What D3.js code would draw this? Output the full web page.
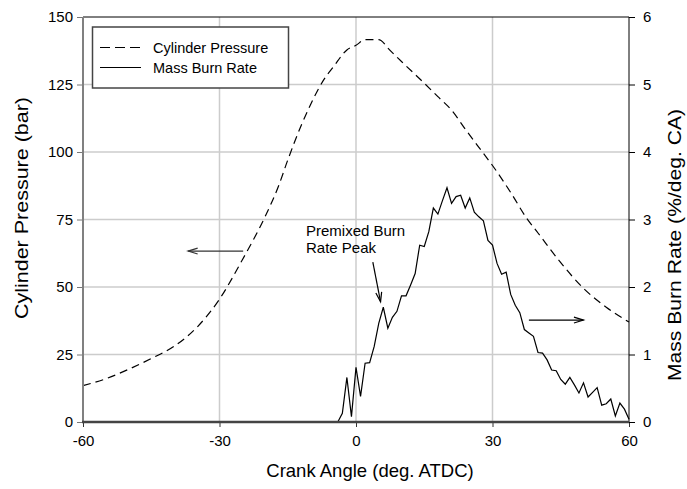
<!DOCTYPE html>
<html>
<head>
<meta charset="utf-8">
<script src="https://cdn.jsdelivr.net/npm/d3@7"></script>
<style>
  body { margin: 0; background: #fff; }
  svg { display: block; font-family: 'Liberation Sans', Arial, sans-serif; }
</style>
</head>
<body>
<div id="chart"></div>
<script>
// cylinder pressure (bar) vs crank angle
const pressureAngle = [-60, -55, -50, -45, -40, -35, -30, -25, -20, -17, -15, -12, -10, -7, -5, -2, 0, 2, 5, 5.5, 7, 10, 15, 18, 21, 24, 28, 30, 34, 37.5, 40, 45, 50, 55, 60]
const pressure = [13.5, 16, 19.5, 23.5, 28, 35, 45.5, 60, 76, 87.5, 97, 110, 117.5, 127, 131.5, 137.8, 139.5, 141.6, 141.6, 141.3, 138.5, 133.5, 125.5, 120.5, 115.5, 108.5, 99.5, 95, 85, 75.5, 70, 59, 49.5, 42.5, 37]

// mass burn rate (%/deg CA)
const burnAngle = [-60, -5, -4, -3, -2, -1, 0, 1, 2, 3, 4, 5, 6, 7, 8, 9, 10, 11, 12, 13, 14, 15, 16, 17, 18, 19, 20,
  21, 22, 23, 24, 25, 26, 27, 28, 29, 30, 31, 32, 33, 34, 35, 36, 37, 38, 39, 40,
  41, 42, 43, 44, 45, 46, 47, 48, 49, 50, 51, 52, 53, 54, 55, 56, 57, 58, 59, 60]
const burnRate = [0, 0, 0, 0.13, 0.66, 0.08, 0.81, 0.38, 0.87, 0.88, 1.12, 1.46, 1.70, 1.39, 1.55, 1.64, 1.87, 1.87, 2.03, 2.20, 2.62, 2.60, 2.82, 3.17, 3.08, 3.28, 3.47,
  3.24, 3.34, 3.36, 3.17, 3.32, 3.11, 3.04, 2.98, 2.69, 2.62, 2.35, 2.19, 2.22, 1.89, 1.73, 1.62, 1.37, 1.32, 1.27, 1.03,
  1.02, 0.92, 0.77, 0.76, 0.63, 0.56, 0.66, 0.55, 0.43, 0.58, 0.37, 0.44, 0.51, 0.25, 0.27, 0.34, 0.09, 0.28, 0.19, 0.04]

const xTicks = [-60, -30, 0, 30, 60]
const leftTicks = [0, 25, 50, 75, 100, 125, 150]
const rightTicks = [0, 1, 2, 3, 4, 5, 6]

const W = 687
const H = 489
const plot = { left: 83, right: 629, top: 17, bottom: 422 }

const svg = d3.select('#chart').append('svg')
  .attr('width', W)
  .attr('height', H)

const x = d3.scaleLinear().domain([-60, 60]).range([plot.left, plot.right])
const yP = d3.scaleLinear().domain([0, 150]).range([plot.bottom, plot.top])
const yB = d3.scaleLinear().domain([0, 6]).range([plot.bottom, plot.top])

// grid
svg.append('g')
  .selectAll('line')
  .data(xTicks.slice(1, -1))
  .enter().append('line')
  .attr('x1', d => x(d)).attr('x2', d => x(d))
  .attr('y1', plot.top).attr('y2', plot.bottom)
  .attr('stroke', '#cccccc').attr('stroke-width', 1.5)

svg.append('g')
  .selectAll('line')
  .data(leftTicks.slice(1, -1))
  .enter().append('line')
  .attr('x1', plot.left).attr('x2', plot.right)
  .attr('y1', d => yP(d)).attr('y2', d => yP(d))
  .attr('stroke', '#cccccc').attr('stroke-width', 1.5)

// curves
const pLine = d3.line().x((d, i) => x(pressureAngle[i])).y(d => yP(d)).curve(d3.curveMonotoneX)
svg.append('path')
  .datum(pressure)
  .attr('d', pLine)
  .attr('fill', 'none')
  .attr('stroke', '#000')
  .attr('stroke-width', 1.2)
  .attr('stroke-dasharray', '8,5')

const bLine = d3.line().x((d, i) => x(burnAngle[i])).y(d => yB(d))
svg.append('path')
  .datum(burnRate)
  .attr('d', bLine)
  .attr('fill', 'none')
  .attr('stroke', '#000')
  .attr('stroke-width', 1.2)

// axes
const xAxis = d3.axisBottom(x).tickValues(xTicks).tickSize(5).tickPadding(8).tickFormat(d => String(d))
svg.append('g')
  .attr('class', 'x-axis')
  .attr('transform', 'translate(0,' + plot.bottom + ')')
  .call(xAxis)

const yAxisL = d3.axisLeft(yP).tickValues(leftTicks).tickSize(6).tickPadding(4).tickFormat(d => String(d))
svg.append('g')
  .attr('class', 'y-axis')
  .attr('transform', 'translate(' + plot.left + ',0)')
  .call(yAxisL)

const yAxisR = d3.axisRight(yB).tickValues(rightTicks).tickSize(6).tickPadding(8).tickFormat(d => String(d))
svg.append('g')
  .attr('class', 'y-axis-r')
  .attr('transform', 'translate(' + plot.right + ',0)')
  .call(yAxisR)

svg.selectAll('.x-axis, .y-axis, .y-axis-r').selectAll('text')
  .attr('font-size', '15px')
  .attr('font-family', "'Liberation Sans', Arial, sans-serif")
  .attr('fill', '#000')
svg.selectAll('.x-axis .domain, .y-axis .domain, .y-axis-r .domain').remove()
svg.selectAll('.y-axis .tick line').attr('stroke', '#777')
svg.selectAll('.x-axis .tick line').attr('stroke', '#333')

// frame
svg.append('line').attr('x1', plot.left).attr('x2', plot.right).attr('y1', plot.top).attr('y2', plot.top)
  .attr('stroke', '#000').attr('stroke-width', 1)
svg.append('line').attr('x1', plot.right).attr('x2', plot.right).attr('y1', plot.top).attr('y2', plot.bottom)
  .attr('stroke', '#000').attr('stroke-width', 1)
svg.append('line').attr('x1', plot.left).attr('x2', plot.left).attr('y1', plot.top).attr('y2', plot.bottom)
  .attr('stroke', '#808080').attr('stroke-width', 2)
svg.append('line').attr('x1', plot.left - 1).attr('x2', plot.right).attr('y1', plot.bottom).attr('y2', plot.bottom)
  .attr('stroke', '#444').attr('stroke-width', 2.5)

// axis titles
svg.append('text')
  .text('Crank Angle (deg. ATDC)')
  .attr('x', 370).attr('y', 477)
  .attr('text-anchor', 'middle')
  .attr('font-size', '18.5px')

svg.append('text')
  .text('Cylinder Pressure (bar)')
  .attr('transform', 'translate(28,208) rotate(-90)')
  .attr('text-anchor', 'middle')
  .attr('font-size', '18.5px')
  .attr('textLength', 222)
  .attr('lengthAdjust', 'spacingAndGlyphs')

svg.append('text')
  .text('Mass Burn Rate (%/deg. CA)')
  .attr('transform', 'translate(681,245) rotate(-90)')
  .attr('text-anchor', 'middle')
  .attr('font-size', '18.5px')
  .attr('textLength', 272)
  .attr('lengthAdjust', 'spacingAndGlyphs')

// arrows
function arrow(x1, y1, x2, y2, color) {
  const g = svg.append('g').attr('stroke', color).attr('stroke-width', 1.2).attr('fill', 'none')
  g.append('line').attr('x1', x1).attr('y1', y1).attr('x2', x2).attr('y2', y2)
  const a = Math.atan2(y2 - y1, x2 - x1)
  const len = 10, spread = 0.3
  g.append('path')
    .attr('d', 'M' + (x2 - len * Math.cos(a - spread)) + ',' + (y2 - len * Math.sin(a - spread)) +
      'L' + x2 + ',' + y2 +
      'L' + (x2 - len * Math.cos(a + spread)) + ',' + (y2 - len * Math.sin(a + spread)))
}

arrow(x(-24.8), yP(63.3), x(-36.9), yP(63.3), '#333')
arrow(x(38), yB(1.51), x(50), yB(1.51), '#000')
arrow(x(3.7), yB(2.37), x(5.4), yB(1.78), '#000')

svg.append('text')
  .attr('x', 306).attr('y', 236)
  .attr('font-size', '15px')
  .selectAll('tspan')
  .data(['Premixed Burn', 'Rate Peak'])
  .enter().append('tspan')
  .attr('x', 306)
  .attr('dy', (d, i) => i === 0 ? 0 : 17)
  .text(d => d)

// legend
const legend = svg.append('g')
legend.append('rect')
  .attr('x', 92.5).attr('y', 27)
  .attr('width', 196).attr('height', 61)
  .attr('fill', '#fff')
  .attr('stroke', '#444')
  .attr('stroke-width', 1.5)

legend.append('line')
  .attr('x1', 100).attr('x2', 141).attr('y1', 47.5).attr('y2', 47.5)
  .attr('stroke', '#000').attr('stroke-width', 1.2)
  .attr('stroke-dasharray', '10,5')
legend.append('line')
  .attr('x1', 100).attr('x2', 141).attr('y1', 67.5).attr('y2', 67.5)
  .attr('stroke', '#000').attr('stroke-width', 1.2)

legend.append('text').text('Cylinder Pressure')
  .attr('x', 153).attr('y', 52.5).attr('font-size', '14.5px')
legend.append('text').text('Mass Burn Rate')
  .attr('x', 153).attr('y', 72.5).attr('font-size', '14.5px')
</script>
</body>
</html>
